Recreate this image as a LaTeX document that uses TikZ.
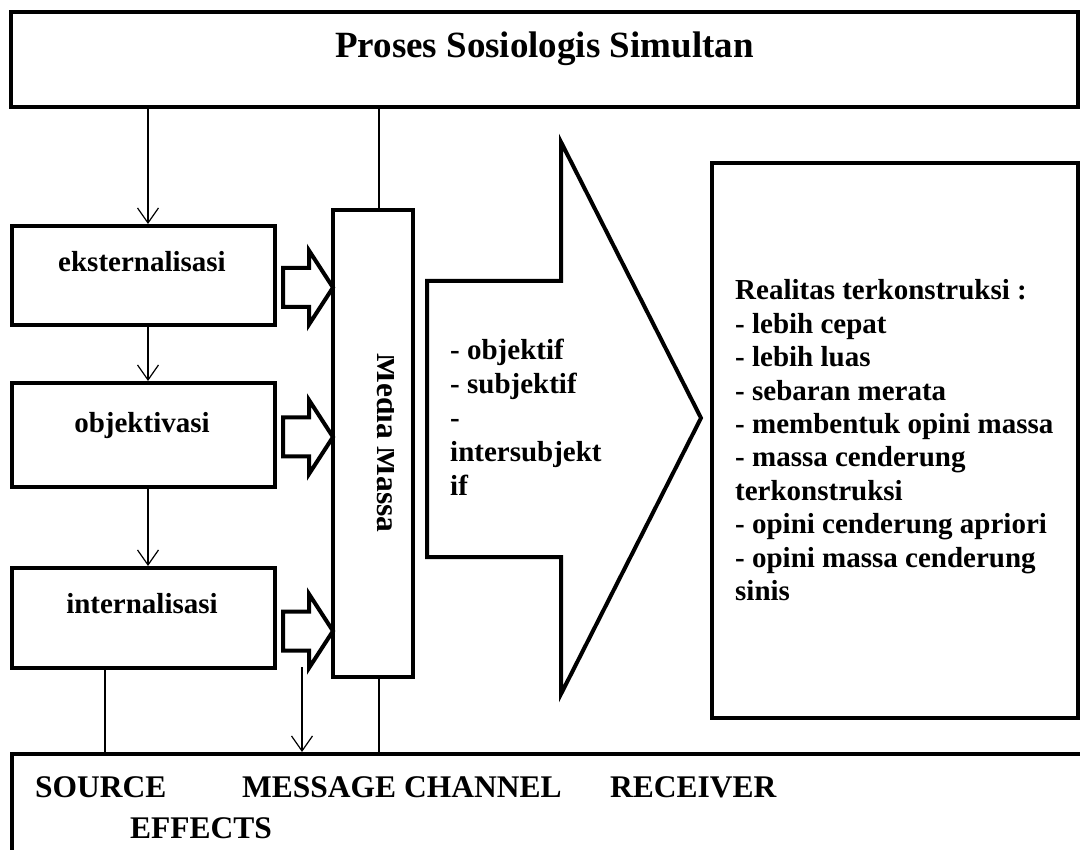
\documentclass[tikz,border=0pt]{standalone}
\usepackage{fontspec}
\setmainfont{Liberation Serif}
\usetikzlibrary{arrows.meta,calc}
\begin{document}
\begin{tikzpicture}[x=1pt,y=-1pt,
  box/.style={draw, line width=4pt, rectangle, inner sep=0pt},
  conn/.style={line width=1.2pt},
  arr/.style={conn, -{Straight Barb[length=15pt,width=21pt,line width=1.2pt]}},
  blk/.style={draw, line width=4pt, line join=miter, fill=white},
  lbl/.style={font=\bfseries\fontsize{29}{33.4}\selectfont, inner sep=0pt},
  ttl/.style={font=\bfseries\fontsize{37}{44}\selectfont, inner sep=0pt},
  btm/.style={font=\bfseries\fontsize{31.5}{36}\selectfont, inner sep=0pt, anchor=base west},
]
\useasboundingbox (0,0) rectangle (1080,850);
\clip (0,0) rectangle (1080,850);

% boxes
\node[box, minimum width=1067, minimum height=95] (top) at (544.5,59.5) {};
\node[ttl, anchor=base] (title) at (544.5,58) {Proses Sosiologis Simultan};

\node[box, minimum width=263, minimum height=99] (eks) at (143.5,275.5) {};
\node[lbl, anchor=base] (ekstxt) at (142,272) {eksternalisasi};

\node[box, minimum width=263, minimum height=104] (obj) at (143.5,435) {};
\node[lbl, anchor=base] (objtxt) at (142,432) {objektivasi};

\node[box, minimum width=263, minimum height=100] (int) at (143.5,618) {};
\node[lbl, anchor=base] (inttxt) at (142,613) {internalisasi};

\node[box, minimum width=80, minimum height=467] (media) at (373,443.5) {};
\begin{scope}
  \clip (335,212) rectangle (393,675);
  \node[rotate=-90, anchor=base, inner sep=0pt, font=\bfseries\fontsize{31.5}{36}\selectfont] (mediatxt) at (377,443) {\bfseries Media Massa};
\end{scope}

\node[box, minimum width=366, minimum height=555] (real) at (895,440.5) {};
\node[lbl, anchor=base west] (realtxt) at (735,300) {%
\begin{tabular}[t]{@{}l@{}}
Realitas terkonstruksi :\\
- lebih cepat\\
- lebih luas\\
- sebaran merata\\
- membentuk opini massa\\
- massa cenderung\\
terkonstruksi\\
- opini cenderung apriori\\
- opini massa cenderung\\
sinis
\end{tabular}};

\node[box, minimum width=1100, minimum height=150] (bottom) at (562,829) {};
\node[btm] (src) at (35,797) {SOURCE};
\node[btm] (msg) at (242,797) {MESSAGE CHANNEL};
\node[btm] (rcv) at (610,797) {RECEIVER};
\node[btm] (eff) at (130,838) {EFFECTS};

% big block arrow
\draw[blk] (427,281) -- (561,281) -- (561,142) -- (701,418) -- (561,694) -- (561,557) -- (427,557) -- cycle;
\node[lbl, anchor=base west, font=\bfseries\fontsize{29}{34}\selectfont] (kind) at (450,360) {%
\begin{tabular}[t]{@{}l@{}}
- objektif\\
- subjektif\\
-\\
intersubjekt\\
if
\end{tabular}};

% small block arrows
\draw[blk] (333,287.5) -- ++(-24,-37) -- ++(0,17.5) -- ++(-26,0) -- ++(0,39) -- ++(26,0) -- ++(0,17.5) -- cycle;
\draw[blk] (333,437) -- ++(-24,-37) -- ++(0,17.5) -- ++(-26,0) -- ++(0,39) -- ++(26,0) -- ++(0,17.5) -- cycle;
\draw[blk] (333,631) -- ++(-24,-37) -- ++(0,17.5) -- ++(-26,0) -- ++(0,39) -- ++(26,0) -- ++(0,17.5) -- cycle;

% connectors
\coordinate (xa) at (148,0);
\coordinate (xm) at (379,0);
\coordinate (xs) at (105,0);
\coordinate (mstart) at (302,667);
\draw[arr] (xa |- top.south) -- (xa |- eks.north);
\draw[arr] (xa |- eks.south) -- (xa |- obj.north);
\draw[arr] (xa |- obj.south) -- (xa |- int.north);
\draw[conn] (xm |- top.south) -- (xm |- media.north);
\draw[conn] (xm |- media.south) -- (xm |- bottom.north);
\draw[conn] (xs |- int.south) -- (xs |- bottom.north);
\draw[arr] (mstart) -- (mstart |- bottom.north);
\end{tikzpicture}
\end{document}
